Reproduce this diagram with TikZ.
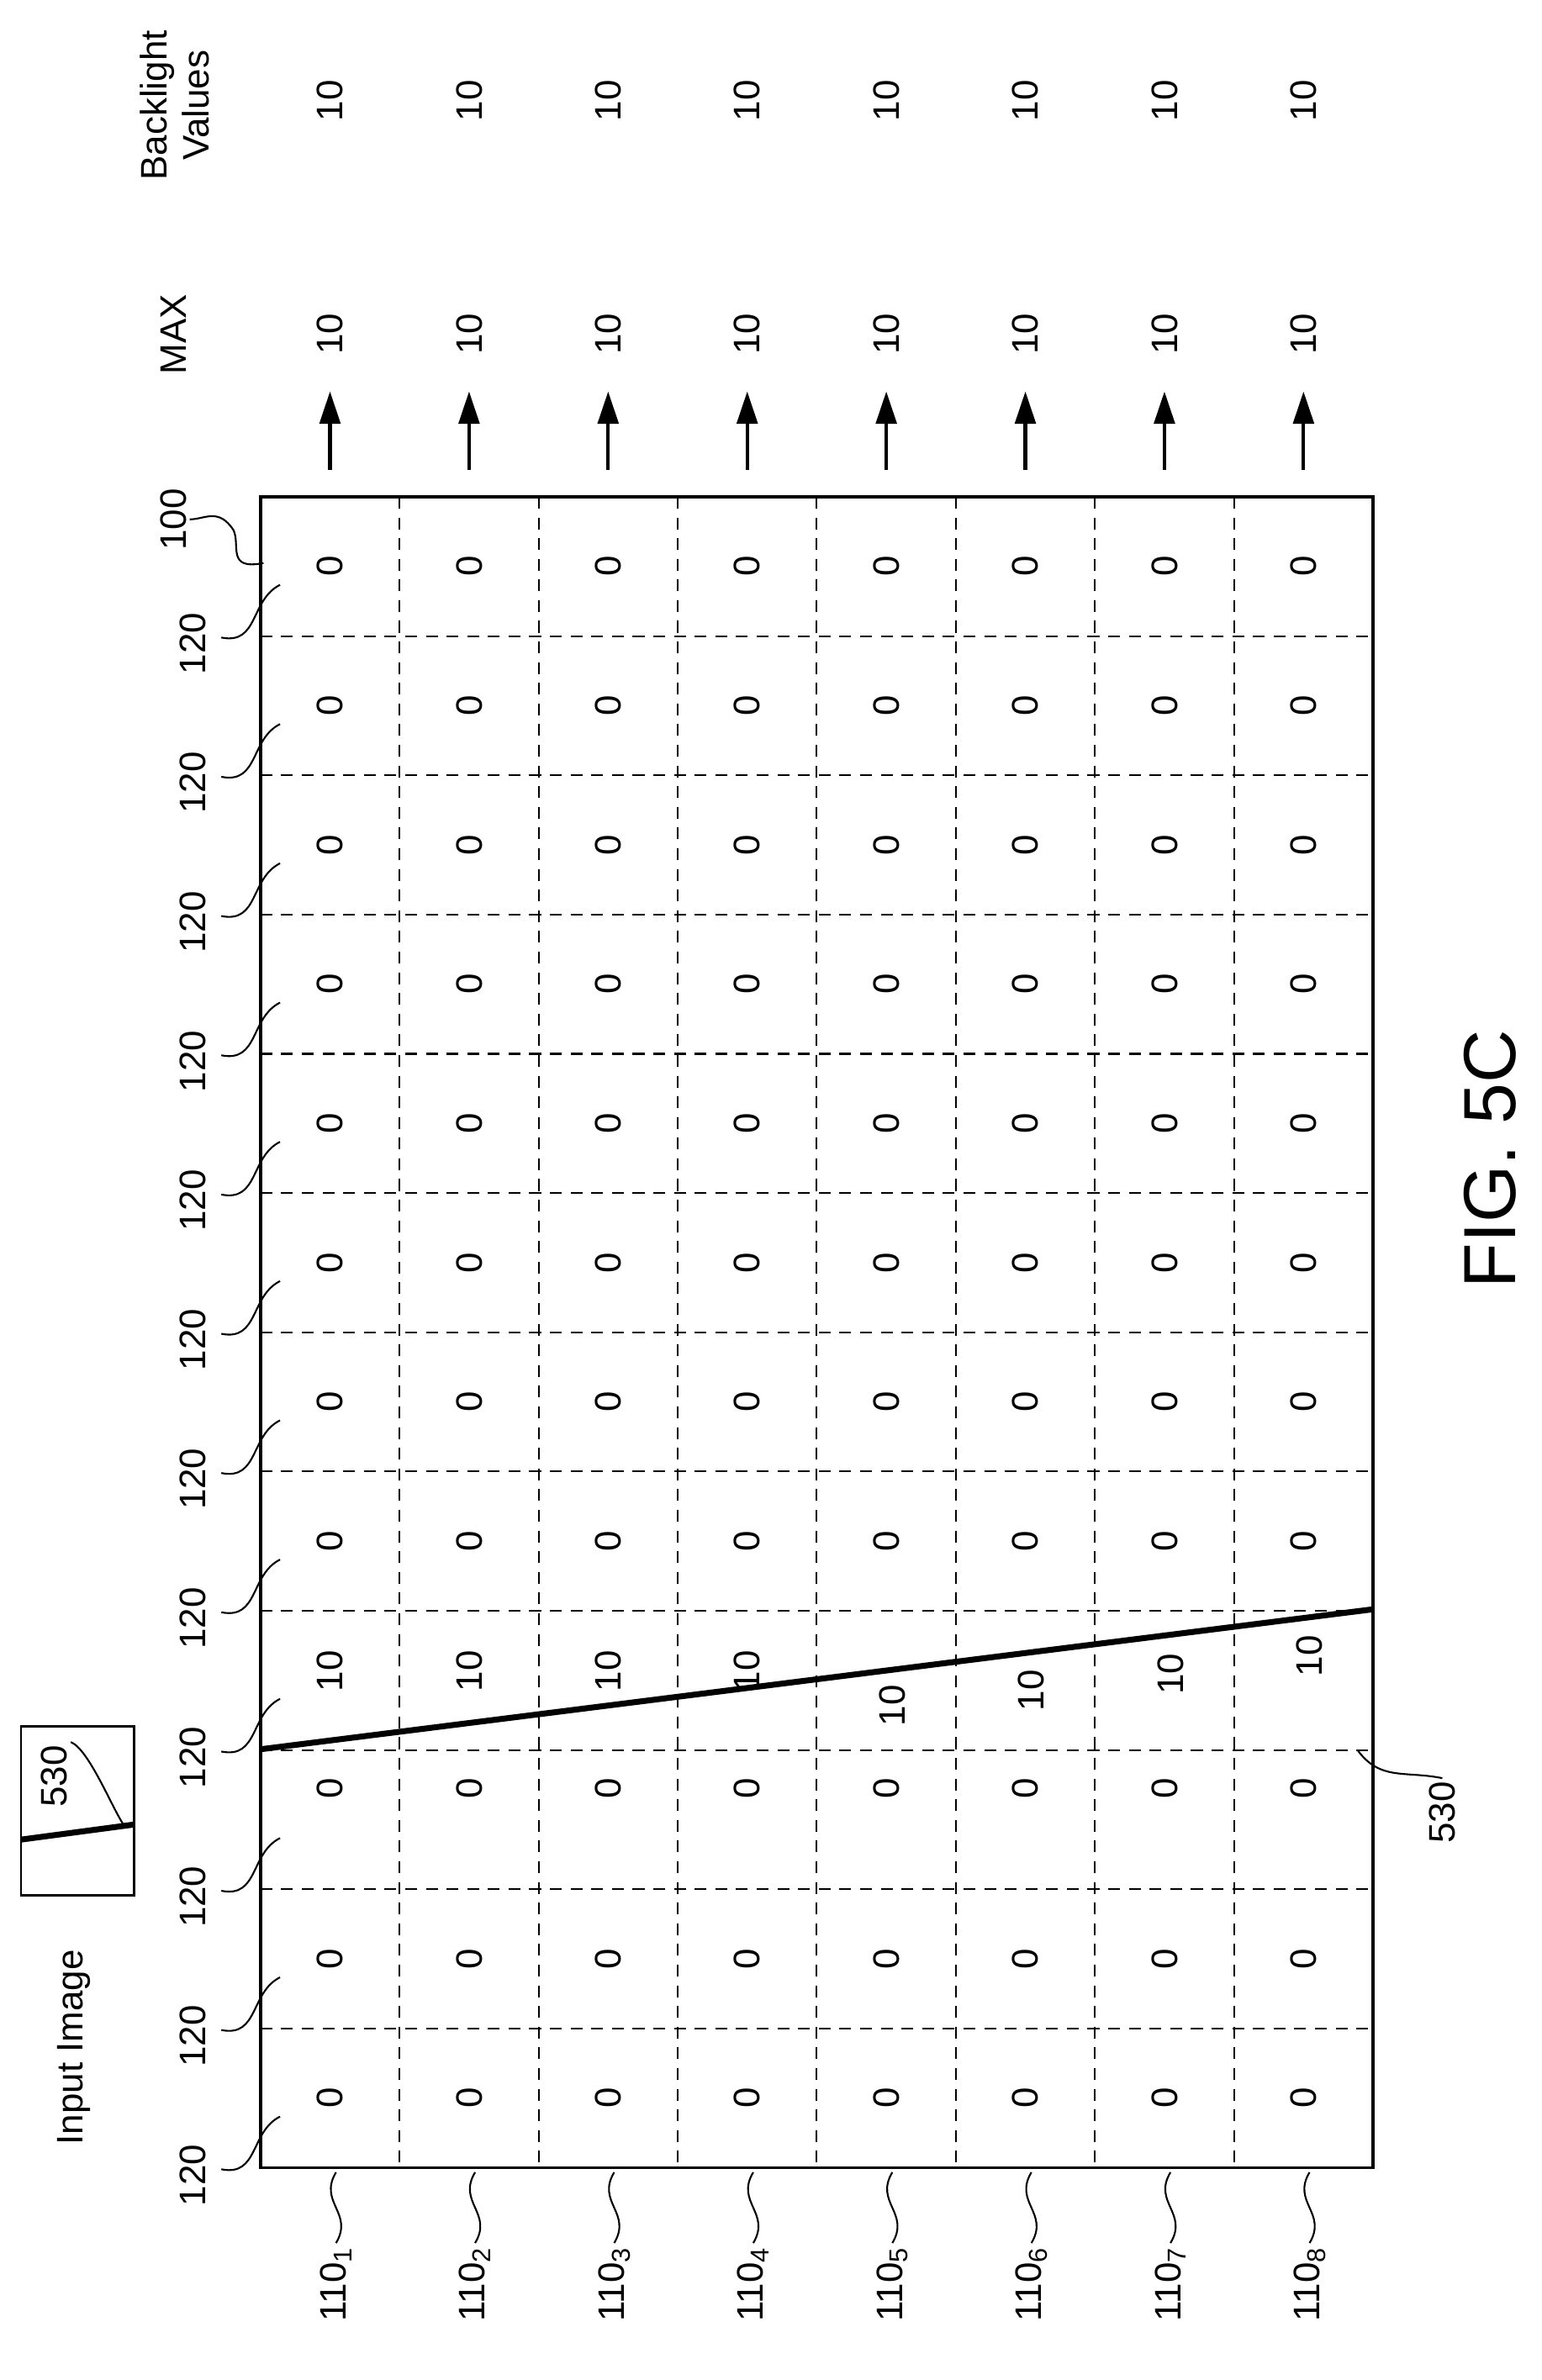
\documentclass[tikz,border=0pt]{standalone}
\usepackage{fontspec}
\setmainfont{Liberation Sans}
\usetikzlibrary{arrows.meta}
\begin{document}
\begin{tikzpicture}[x=0.01791cm,y=-0.01791cm,
  lbl/.style={rotate=90,font=\fontsize{12.5}{14}\selectfont,inner sep=1pt},
  cell/.style={lbl},
  lead/.style={line width=0.6pt},
  divider/.style={dashed,line width=0.6pt,dash pattern=on 4pt off 3pt}]
\useasboundingbox (0,0) rectangle (1024,1581);

% grid
\draw[line width=1pt] (173,330) rectangle (912,1440);
\foreach \i in {1,...,7}
  \draw[divider] ({173+92.375*\i},330) -- ({173+92.375*\i},1440);
\foreach \j in {1,...,11}
  \draw[divider] (173,{330+92.5*\j}) -- (912,{330+92.5*\j});

% cell values
\foreach \i in {1,...,8}{
  \foreach \j in {1,...,8,11,12}
    \node[cell] at ({173+92.375*(\i-0.5)},{330+92.5*(\j-0.5)}) {0};
  \node[cell] at ({173+92.375*(\i-0.5)},1188) {0};
}
\foreach \i in {1,...,4}
  \node[cell] at ({173+92.375*(\i-0.5)},1110) {10};
\foreach \i/\yy in {5/1133,6/1123,7/1112,8/1100}
  \node[cell] at ({173+92.375*(\i-0.5)+4},\yy) {10};

% line 530
\coordinate (lineA) at (173,1162);
\coordinate (lineB) at (912,1069);
\draw[line width=2pt] (lineA) -- (lineB);
\node[lbl] (l530) at (958,1204) {530};
\draw[lead] (l530.east) .. controls +(-25,-5) and +(15,20) .. (902,1163);

% row labels
\foreach \i in {1,...,8}{
  \node[lbl,anchor=east] (row\i) at ({173+92.375*(\i-0.5)+4},1490) {110\textsubscript{\i}};
  \draw[lead] (row\i.east) .. controls +(12,-20) and +(-12,20) .. ({173+92.375*(\i-0.5)+4},1443);
}

% column labels
\foreach \j in {0,...,11}{
  \node[lbl] (col\j) at (128,{1445-92.5*\j}) {120};
  \draw[lead] (147,{1441-92.5*\j}) .. controls +(25,5) and +(-20,10) .. (186,{1406-92.5*\j});
}
\node[lbl] (frame) at (115,345) {100};
\draw[lead] (frame.south) .. controls +(10,0) and +(-10,-15) .. (155,352)
  .. controls +(5,10) and +(-25,5) .. (175,374);

% max and backlight
\foreach \i in {1,...,8}{
  \coordinate (tail\i) at ({173+92.375*(\i-0.5)},312);
  \coordinate (head\i) at ({173+92.375*(\i-0.5)},260);
  \draw[line width=1.2pt,-{Triangle[length=11pt,width=7pt]}] (tail\i) -- (head\i);
  \node[lbl] (max\i) at ({173+92.375*(\i-0.5)},222) {10};
  \node[lbl] (bl\i) at ({173+92.375*(\i-0.5)},67) {10};
}
\node[lbl] (maxhead) at (115,222) {MAX};
\node[lbl,align=center] (blhead) at (116,70) {Backlight\\Values};

% input image
\node[lbl] (inimg) at (49,1360) {Input Image};
\draw[line width=0.8pt] (14,1147) rectangle (89,1259);
\draw[line width=2pt] (14,1222) -- (89,1212);
\node[lbl] (in530) at (36,1180) {530};
\draw[lead] (in530.south east) .. controls +(12,5) and +(-8,-12) .. (82,1212);

% caption
\node[rotate=90,font=\fontsize{25}{30}\selectfont] (fig) at (990,770) {FIG. 5C};
\end{tikzpicture}
\end{document}
